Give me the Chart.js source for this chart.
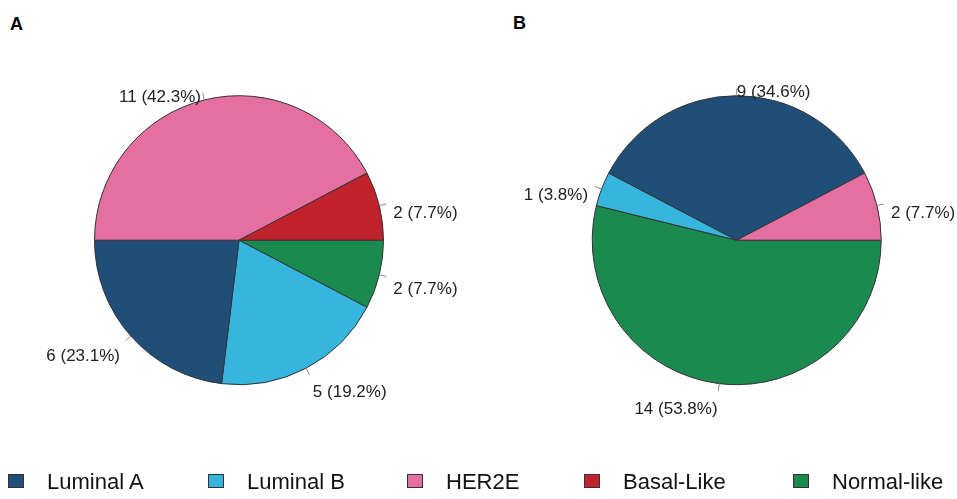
<!DOCTYPE html>
<html lang="en">
<head>
  <meta charset="utf-8">
  <title>Subtype distribution - A / B</title>
  <script src="https://cdn.jsdelivr.net/npm/chart.js@4.4.0/dist/chart.umd.min.js"></script>
  <style>
    html, body { margin: 0; padding: 0; background: #fff; overflow: hidden; }
    body { width: 957px; height: 499px; position: relative; font-family: "Liberation Sans", Arial, sans-serif; }
    canvas { position: absolute; top: 0; }
    #chartA { left: 0; }
    #chartB { left: 478px; }
    .panel { position: absolute; font-size: 18px; line-height: 18px; font-weight: bold; color: #000; }
    .legend-box { position: absolute; top: 474px; width: 16px; height: 14px; box-sizing: border-box; border: 1px solid #333; }
    .legend-text { position: absolute; top: 471px; font-size: 22px; line-height: 22px; color: #111; white-space: nowrap; }
  </style>
</head>
<body>
  <div class="panel" style="left:10px; top:15px;">A</div>
  <div class="panel" style="left:513px; top:14px;">B</div>
  <canvas id="chartA" width="478" height="499"></canvas>
  <canvas id="chartB" width="479" height="499"></canvas>
  <div id="legend"></div>

  <script>
    // categories in legend order
    const categories = ['Luminal A', 'Luminal B', 'HER2E', 'Basal-Like', 'Normal-like'];
    const countsA = [6, 5, 11, 2, 2];
    const countsB = [9, 1, 2, 0, 14];

    // styling
    const colors = ['#1f4e79', '#36b5df', '#e46fa0', '#c0232b', '#1a8a4e'];
    // slices go clockwise from 3 o'clock (same look as R's counter-clockwise alphabetical order)
    const sliceOrder = ['Normal-like', 'Luminal B', 'Luminal A', 'HER2E', 'Basal-Like'];
    const legendLeft = [8, 208, 407, 584, 793];

    const outsideLabels = {
      id: 'outsideLabels',
      afterDatasetsDraw(chart) {
        const ctx = chart.ctx;
        const meta = chart.getDatasetMeta(0);
        const values = chart.data.datasets[0].data;
        const total = values.reduce((s, v) => s + v, 0);
        ctx.save();
        ctx.font = '17px "Liberation Sans", Arial, sans-serif';
        ctx.fillStyle = '#222';
        ctx.strokeStyle = '#8a8a8a';
        ctx.lineWidth = 1;
        ctx.textBaseline = 'middle';
        meta.data.forEach((arc, i) => {
          const v = values[i];
          if (!v) return;
          const p = arc.getProps(['x', 'y', 'startAngle', 'endAngle', 'outerRadius'], true);
          const mid = (p.startAngle + p.endAngle) / 2;
          const c = Math.cos(mid), s = Math.sin(mid);
          const r = p.outerRadius;
          ctx.beginPath();
          ctx.moveTo(p.x + r * c, p.y + r * s);
          ctx.lineTo(p.x + 1.05 * r * c, p.y + 1.05 * r * s);
          ctx.stroke();
          ctx.textAlign = c > -1e-6 ? 'left' : 'right';
          const pct = (v / total * 100).toFixed(1);
          ctx.fillText(`${v} (${pct}%)`, p.x + 1.1 * r * c, p.y + 1.1 * r * s + 11);
        });
        ctx.restore();
      }
    };

    function makePie(id, counts, padding) {
      const shown = sliceOrder.filter((c) => counts[categories.indexOf(c)] > 0);
      return new Chart(document.getElementById(id), {
        type: 'pie',
        data: {
          labels: shown,
          datasets: [{
            data: shown.map((c) => counts[categories.indexOf(c)]),
            backgroundColor: shown.map((c) => colors[categories.indexOf(c)]),
            borderColor: '#333',
            borderWidth: 1,
            hoverOffset: 0
          }]
        },
        options: {
          responsive: false,
          animation: false,
          events: [],
          rotation: 90,
          radius: 144.5,
          layout: { padding },
          plugins: { legend: { display: false }, tooltip: { enabled: false } }
        },
        plugins: [outsideLabels]
      });
    }

    makePie('chartA', countsA, { left: 0, right: 0, top: 0, bottom: 18.6 });
    makePie('chartB', countsB, { left: 38.4, right: 0, top: 0, bottom: 18.6 });

    const legend = document.getElementById('legend');
    categories.forEach((name, i) => {
      const box = document.createElement('div');
      box.className = 'legend-box';
      box.style.left = legendLeft[i] + 'px';
      box.style.background = colors[i];
      const txt = document.createElement('div');
      txt.className = 'legend-text';
      txt.style.left = (legendLeft[i] + 39) + 'px';
      txt.textContent = name;
      legend.appendChild(box);
      legend.appendChild(txt);
    });
  </script>
</body>
</html>
